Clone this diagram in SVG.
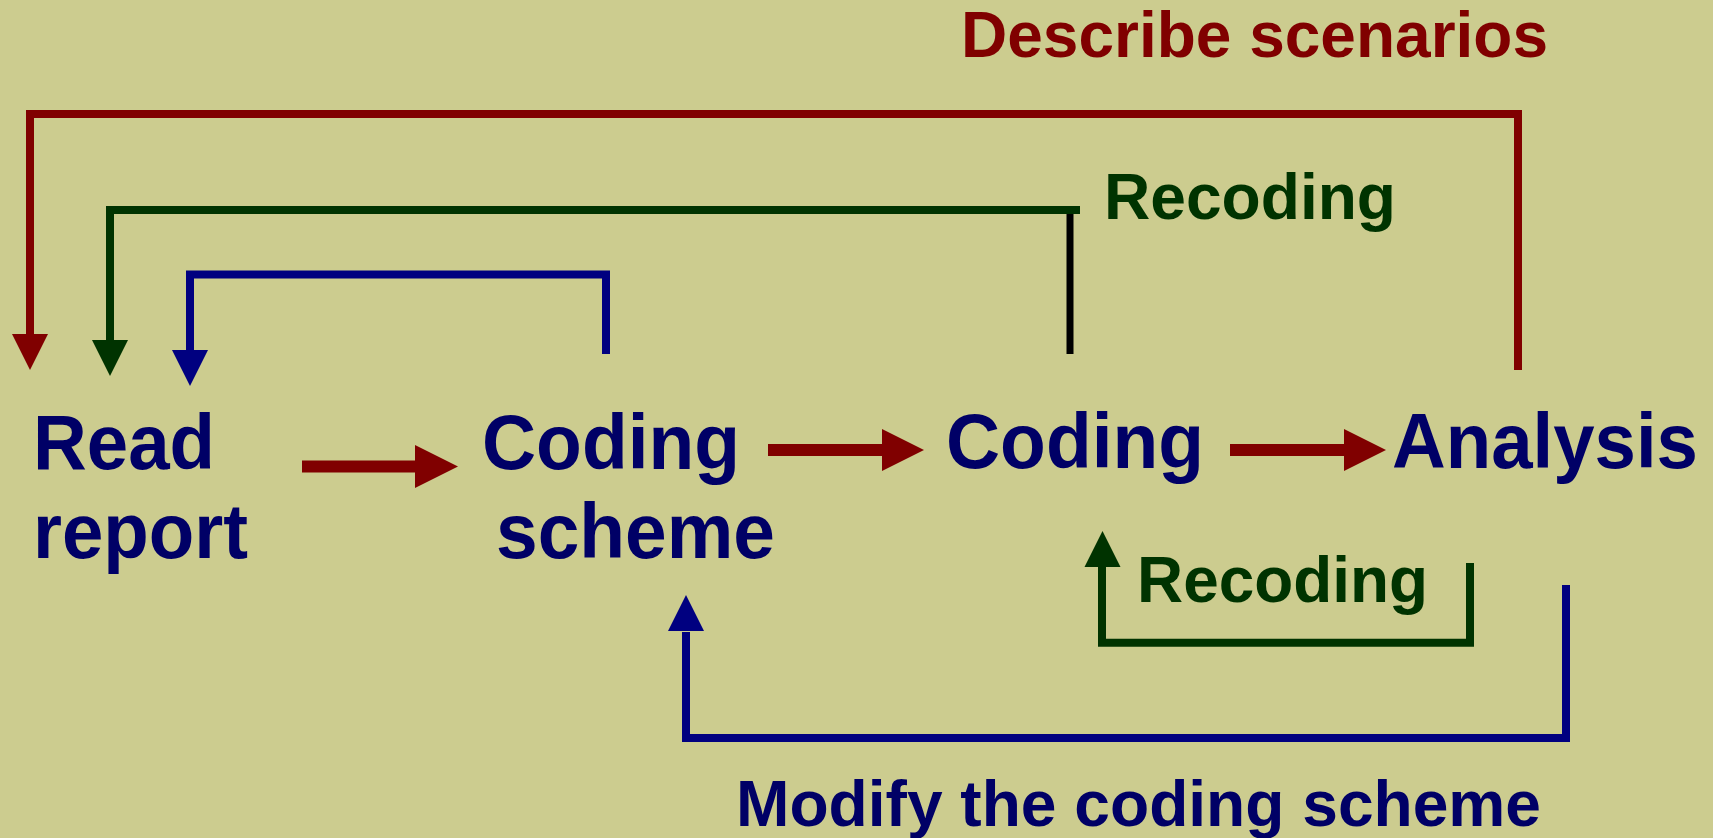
<svg xmlns="http://www.w3.org/2000/svg" width="1713" height="838" viewBox="0 0 1713 838">
<style>
.node{font-family:"Liberation Sans",Arial,sans-serif;font-weight:bold;font-size:77px;fill:#000066}
.lbl{font-family:"Liberation Sans",Arial,sans-serif;font-weight:bold;font-size:64px}
.red{stroke:#800000;fill:none;stroke-width:8}
.grn{stroke:#003300;fill:none;stroke-width:8}
.blu{stroke:#000080;fill:none;stroke-width:8}
.blk{stroke:#000000;fill:none;stroke-width:7}
.shaft{stroke:#800000;stroke-width:12;fill:none}
</style>
<rect x="0" y="0" width="1713" height="838" fill="#CCCC8F"/>
<g id="connectors">
  <line class="shaft" x1="302" y1="466.5" x2="416" y2="466.5"/>
  <polygon fill="#800000" points="415,445 415,488 458,466.5"/>
  <line class="shaft" x1="768" y1="450" x2="883" y2="450"/>
  <polygon fill="#800000" points="882,429 882,471 924,450"/>
  <line class="shaft" x1="1230" y1="450" x2="1345" y2="450"/>
  <polygon fill="#800000" points="1344,429 1344,471 1386,450"/>
  <path class="red" d="M1518 370 V114 H30 V336"/>
  <polygon fill="#800000" points="12,334 48,334 30,370"/>
  <path class="blk" d="M1070 354 V212"/>
  <path class="grn" d="M1080 210 H110 V342"/>
  <polygon fill="#003300" points="92,340 128,340 110,376"/>
  <path class="blu" d="M606 354 V274.5 H190 V352"/>
  <polygon fill="#000080" points="172,350 208,350 190,386"/>
  <path class="blu" d="M1566 585 V738 H686 V632"/>
  <polygon fill="#000080" points="668,631 704,631 686,595"/>
  <path class="grn" d="M1470 563 V642.7 H1102 V567"/>
  <polygon fill="#003300" points="1084.5,567 1120.5,567 1102.5,531"/>
</g>
<g id="node-read-report">
  <text class="node" x="33" y="469" textLength="182" lengthAdjust="spacingAndGlyphs">Read</text>
  <text class="node" x="33" y="558" textLength="215" lengthAdjust="spacingAndGlyphs">report</text>
</g>
<g id="node-coding-scheme">
  <text class="node" x="482" y="469" textLength="258" lengthAdjust="spacingAndGlyphs">Coding</text>
  <text class="node" x="496" y="558" textLength="279" lengthAdjust="spacingAndGlyphs">scheme</text>
</g>
<g id="node-coding">
  <text class="node" x="946" y="468" textLength="258" lengthAdjust="spacingAndGlyphs">Coding</text>
</g>
<g id="node-analysis">
  <text class="node" x="1392" y="468" textLength="306" lengthAdjust="spacingAndGlyphs">Analysis</text>
</g>
<g id="labels">
  <text class="lbl" fill="#800000" x="961" y="57" textLength="587" lengthAdjust="spacingAndGlyphs">Describe scenarios</text>
  <text class="lbl" fill="#003300" x="1104" y="219" textLength="292" lengthAdjust="spacingAndGlyphs">Recoding</text>
  <text class="lbl" fill="#003300" x="1137" y="602" textLength="291" lengthAdjust="spacingAndGlyphs">Recoding</text>
  <text class="lbl" fill="#000066" x="736" y="826" textLength="805" lengthAdjust="spacingAndGlyphs">Modify the coding scheme</text>
</g>
</svg>
